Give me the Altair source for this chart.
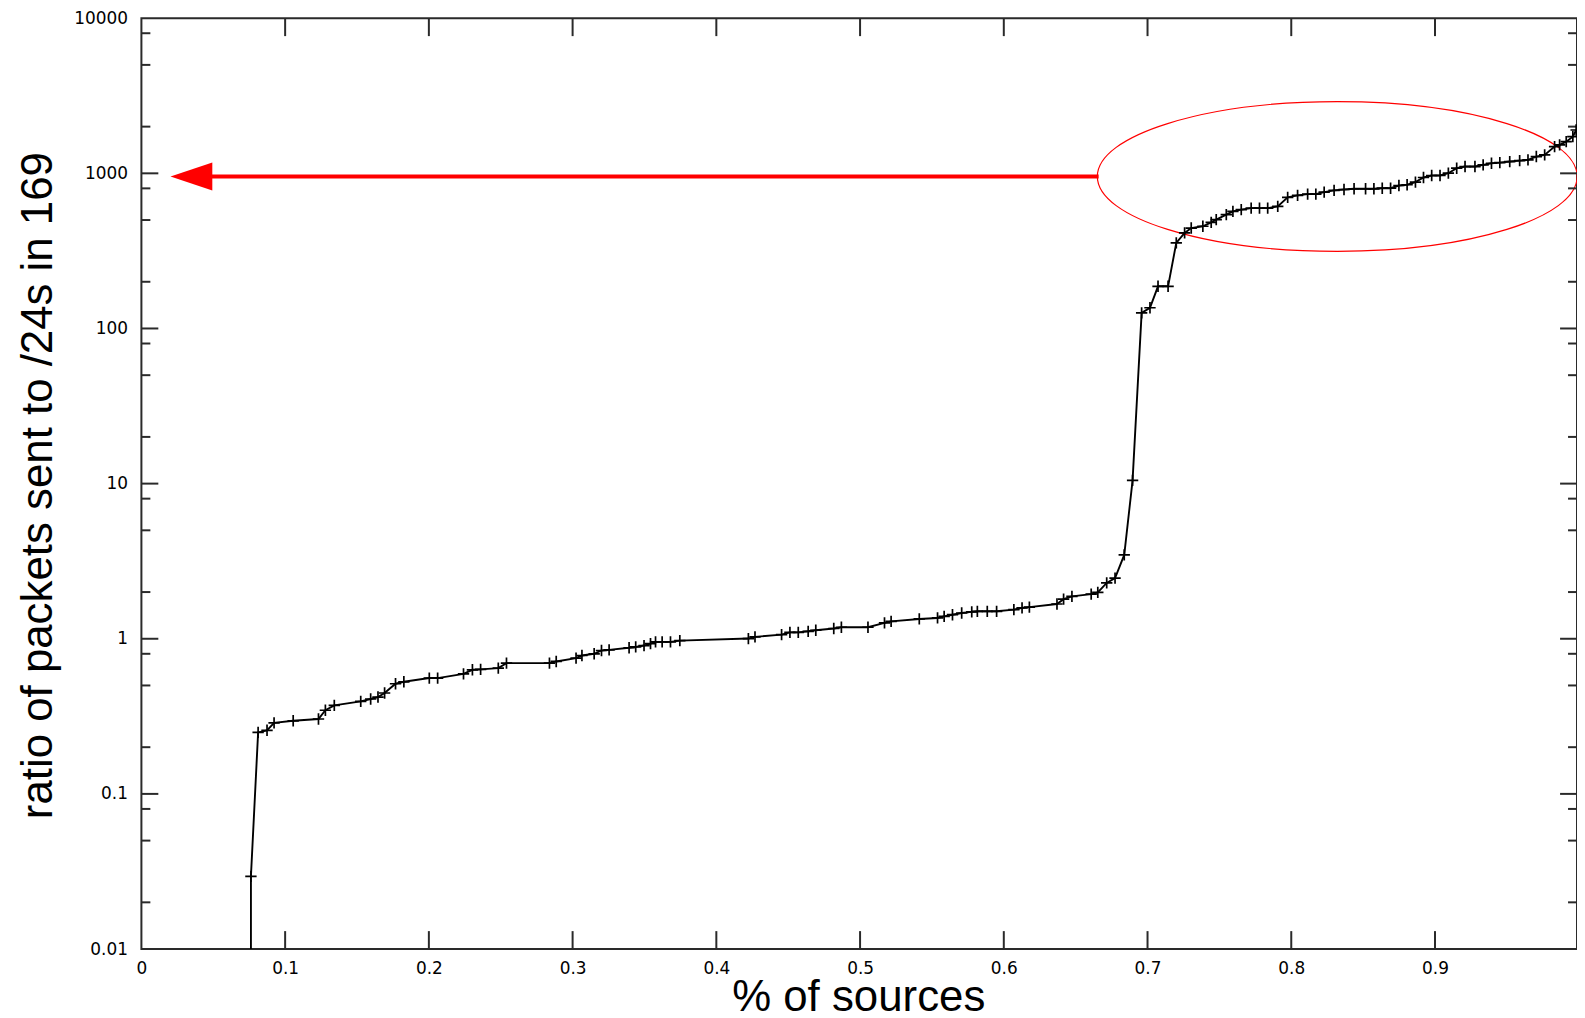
import altair as alt
import pandas as pd

# ---- data (x = fraction of sources, y = ratio) ----
x_vals = [0.0762, 0.0762, 0.0812, 0.0874, 0.0923, 0.1056, 0.1232, 0.1280, 0.1342, 0.1526,
          0.1595, 0.1646, 0.1692, 0.1768, 0.1826, 0.2003, 0.2061, 0.2241, 0.2303, 0.2360,
          0.2483, 0.2540, 0.2839, 0.2886, 0.3024, 0.3065, 0.3150, 0.3201, 0.3254, 0.3393,
          0.3439, 0.3497, 0.3542, 0.3577, 0.3623, 0.3681, 0.3746, 0.4223, 0.4269, 0.4454,
          0.4512, 0.4570, 0.4639, 0.4692, 0.4817, 0.4870, 0.5055, 0.5170, 0.5216, 0.5412,
          0.5539, 0.5585, 0.5643, 0.5707, 0.5777, 0.5816, 0.5885, 0.5950, 0.6070, 0.6127,
          0.6178, 0.6370, 0.6416, 0.6474, 0.6608, 0.6654, 0.6716, 0.6774, 0.6838, 0.6896,
          0.6959, 0.7017, 0.7073, 0.7143, 0.7200, 0.7258, 0.7304, 0.7385, 0.7443, 0.7478,
          0.7548, 0.7594, 0.7652, 0.7721, 0.7779, 0.7836, 0.7906, 0.7975, 0.8044, 0.8114,
          0.8171, 0.8229, 0.8298, 0.8367, 0.8437, 0.8517, 0.8575, 0.8633, 0.8691, 0.8749,
          0.8806, 0.8864, 0.8920, 0.8977, 0.9035, 0.9093, 0.9151, 0.9209, 0.9278, 0.9335,
          0.9393, 0.9451, 0.9520, 0.9589, 0.9647, 0.9705, 0.9763, 0.9832, 0.9867, 0.9913,
          0.9959, 0.9982]
y_vals = [0.01, 0.0294, 0.249, 0.257, 0.287, 0.296, 0.304, 0.346, 0.372, 0.395,
          0.409, 0.421, 0.447, 0.513, 0.528, 0.558, 0.558, 0.594, 0.631, 0.635,
          0.647, 0.697, 0.697, 0.714, 0.750, 0.780, 0.800, 0.840, 0.848, 0.875,
          0.887, 0.904, 0.931, 0.955, 0.955, 0.955, 0.973, 1.003, 1.028, 1.064,
          1.10, 1.10, 1.117, 1.135, 1.164, 1.186, 1.186, 1.265, 1.295, 1.342,
          1.362, 1.394, 1.429, 1.466, 1.489, 1.503, 1.503, 1.503, 1.54, 1.58,
          1.60, 1.675, 1.80, 1.876, 1.94, 1.99, 2.29, 2.46, 3.47, 10.5,
          126, 136, 187, 187, 356, 413, 444, 456, 483, 503,
          542, 569, 583, 597, 597, 597, 612, 700, 721, 734,
          734, 757, 776, 787, 795, 795, 795, 802, 802, 835,
          844, 877, 940, 968, 968, 1002, 1079, 1106, 1106, 1133,
          1161, 1172, 1191, 1208, 1221, 1283, 1315, 1486, 1524, 1600,
          1723, 1903]

x_tick_values = [0, 0.1, 0.2, 0.3, 0.4, 0.5, 0.6, 0.7, 0.8, 0.9]
y_tick_values = [0.01, 0.1, 1, 10, 100, 1000, 10000]
y_minor_values = [m * d for d in [0.01, 0.1, 1, 10, 100, 1000] for m in (2, 5, 8)]

# annotation (red ellipse + arrow), in data units
ellipse_x = [0.8320]
ellipse_y = [954]
arrow_x_start = [0.0348]
arrow_x_end = [0.6660]
arrow_y = [954]

W, H = 1442, 935
X_MAX = 0.9988
FONT = "Liberation Sans"
LFONT = "DejaVu Sans"
AX = "#2a2a2a"

curve = pd.DataFrame({"x": x_vals, "y": y_vals, "i": list(range(len(x_vals)))})
xt = pd.DataFrame({"x": x_tick_values[1:]})
ymaj = pd.DataFrame({"y": y_tick_values[1:-1]})
ymin = pd.DataFrame({"y": y_minor_values})
ell = pd.DataFrame({"x": ellipse_x, "y": ellipse_y})
arr = pd.DataFrame({"x": arrow_x_start, "x2": arrow_x_end, "y": arrow_y})

xscale = alt.Scale(domain=[0, X_MAX], nice=False, zero=False)
yscale = alt.Scale(type="log", domain=[0.01, 10000], nice=False)

xaxis = alt.Axis(values=x_tick_values, format="~g", ticks=False, domain=False, grid=False,
                 labelFont=LFONT, labelFontSize=17, labelColor="black", labelPadding=12,
                 labelFlush=False, labelOverlap=False,
                 title="% of sources", titleFont=FONT, titleFontSize=44,
                 titleFontWeight="normal", titleColor="black",
                 titleX=720, titleY=62, titleAlign="center", titleBaseline="alphabetic")
yaxis = alt.Axis(values=y_tick_values, format="~g", ticks=False, domain=False, grid=False,
                 labelFont=LFONT, labelFontSize=17, labelColor="black", labelPadding=14,
                 labelFlush=False, labelOverlap=False,
                 title="ratio of packets sent to /24s in 169", titleFont=FONT, titleFontSize=44,
                 titleFontWeight="normal", titleColor="black",
                 titleX=-90, titleY=469, titleAngle=270, titleAlign="center",
                 titleBaseline="alphabetic")

line = alt.Chart(curve).mark_line(color="black", strokeWidth=1.9, clip=True).encode(
    x=alt.X("x:Q", scale=xscale, axis=xaxis),
    y=alt.Y("y:Q", scale=yscale, axis=yaxis),
    order="i:Q",
)
plus = "M-1,0L1,0M0,-1L0,1"
markers = alt.Chart(curve).transform_filter("datum.y > 0.011").mark_point(
    shape=plus, size=130, filled=False, color="black", strokeWidth=1.7, opacity=1, clip=True
).encode(x="x:Q", y="y:Q")

tick_style = dict(color=AX, strokeWidth=2)
xt_bottom = alt.Chart(xt).mark_rule(**tick_style).encode(
    x="x:Q", y=alt.value(H), y2=alt.value(H - 18))
xt_top = alt.Chart(xt).mark_rule(**tick_style).encode(
    x="x:Q", y=alt.value(0), y2=alt.value(18))
yl_maj = alt.Chart(ymaj).mark_rule(**tick_style).encode(
    y="y:Q", x=alt.value(0), x2=alt.value(17))
yr_maj = alt.Chart(ymaj).mark_rule(**tick_style).encode(
    y="y:Q", x=alt.value(W - 17), x2=alt.value(W))
yl_min = alt.Chart(ymin).mark_rule(**tick_style).encode(
    y="y:Q", x=alt.value(0), x2=alt.value(9))
yr_min = alt.Chart(ymin).mark_rule(**tick_style).encode(
    y="y:Q", x=alt.value(W - 9), x2=alt.value(W))

ellipse_shape = "M-1,0A1,0.312,0,1,0,1,0A1,0.312,0,1,0,-1,0Z"
ellipse = alt.Chart(ell).mark_point(
    shape=ellipse_shape, size=482 * 482, filled=False, color="red", strokeWidth=1.2, opacity=1
).encode(x="x:Q", y="y:Q")
arrow_line = alt.Chart(arr).mark_rule(color="red", strokeWidth=4).encode(
    x="x:Q", x2="x2:Q", y="y:Q")
arrow_head = alt.Chart(arr).mark_point(
    shape="M-1,0L1,-0.667L1,0.667Z", size=42 * 42, filled=True, color="red",
    strokeWidth=0, opacity=1
).encode(x="x:Q", y="y:Q")

chart = alt.layer(
    ellipse, arrow_line, arrow_head,
    xt_bottom, xt_top, yl_maj, yr_maj, yl_min, yr_min,
    line, markers,
).properties(
    width=W, height=H,
    autosize=alt.AutoSizeParams(type="none"),
    padding={"left": 134, "top": 8, "right": 0, "bottom": 60},
    background="white",
).configure_view(
    stroke=AX, strokeWidth=2
)

chart.save("out.html", embed_options={"renderer": "svg", "actions": False})
